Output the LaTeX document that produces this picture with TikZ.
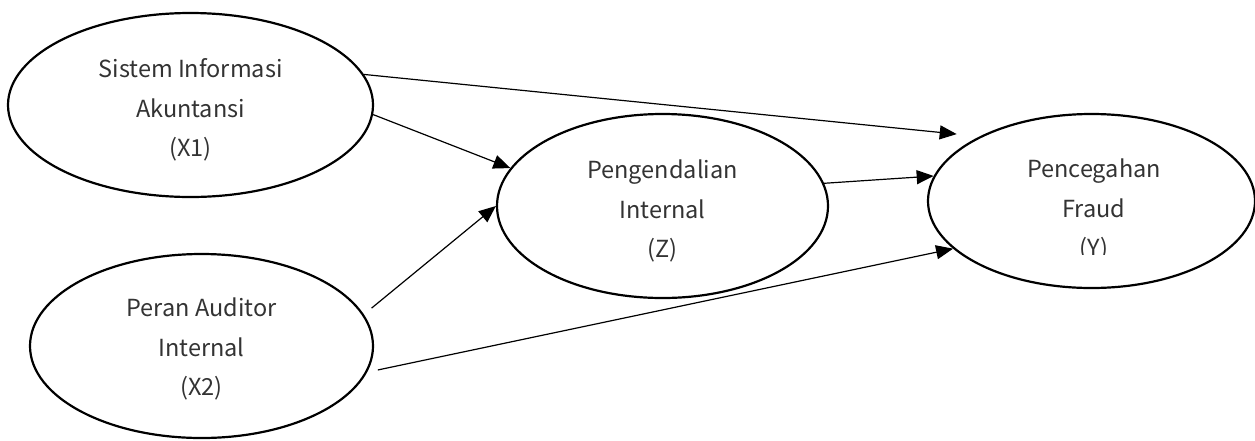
\documentclass[tikz,border=0pt]{standalone}
\usepackage{fontspec}
\setmainfont{Noto Sans CJK JP}
\usetikzlibrary{shapes.geometric,arrows.meta}
\tikzset{
  var/.style={ellipse, draw=black, line width=2.2pt, inner sep=0pt},
  lbl/.style={align=center, font=\fontsize{23.5}{39.5}\selectfont, text=black!80, inner sep=0pt},
  path/.style={draw=black, line width=1.2pt, -{Triangle[length=17pt,width=14pt]}}
}
\begin{document}
\begin{tikzpicture}[x=1pt,y=-1pt]
\useasboundingbox (0,0) rectangle (1255,440);
\node[var, minimum width=365pt, minimum height=184pt] (x1) at (190.5,105) {};
\node[var, minimum width=343pt, minimum height=184pt] (x2) at (201.5,346) {};
\node[var, minimum width=331pt, minimum height=184pt] (z) at (662.5,206) {};
\node[var, minimum width=327pt, minimum height=174pt] (y) at (1091.5,201) {};
\node[lbl] (x1t) at (190.5,110) {Sistem Informasi\\Akuntansi\\(X1)};
\node[lbl] (x2t) at (201.5,349) {Peran Auditor\\Internal\\(X2)};
\node[lbl] (zt) at (662.5,211) {Pengendalian\\Internal\\(Z)};
\begin{scope}
\clip (900,100) rectangle (1255,254);
\node[lbl] (yt) at (1094,210) {Pencegahan\\Fraud\\(Y)};
\end{scope}
\draw[path, shorten >=23pt] (x1.10) -- (y.150);
\draw[path] (x1.-3) -- (z.166);
\draw[path, shorten <=10pt] (x2.11) -- (z.180);
\draw[path, shorten <=11pt] (x2.-9) -- (y.199);
\draw[path] (z.8) -- (y.171);
\end{tikzpicture}
\end{document}
